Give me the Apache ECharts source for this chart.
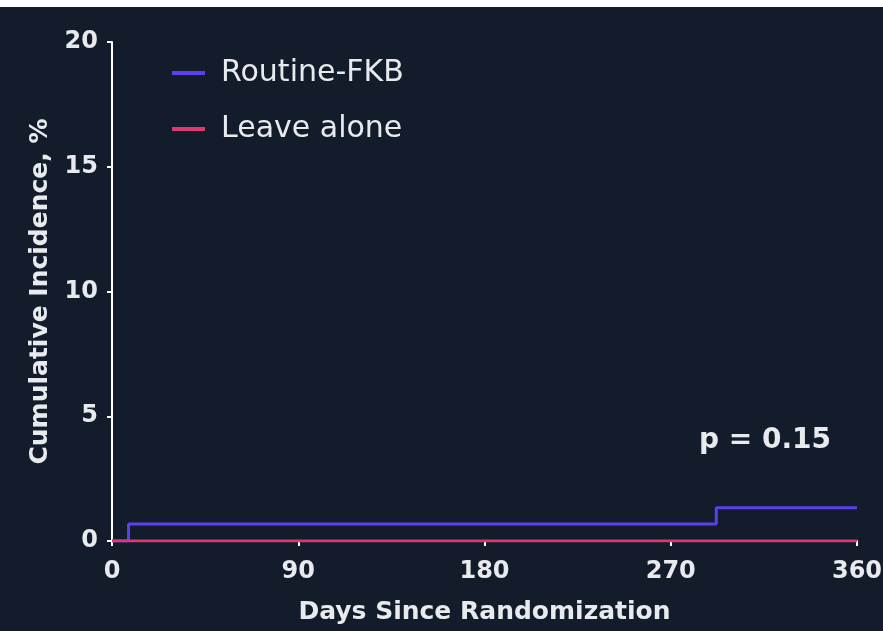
<!DOCTYPE html>
<html>
<head>
<meta charset="utf-8">
<script src="https://cdn.jsdelivr.net/npm/echarts@6/dist/echarts.min.js"></script>
<style>
  html, body { margin: 0; padding: 0; background: #121c2a; }
  #chart { width: 883px; height: 631px; }
</style>
</head>
<body>
<div id="chart"></div>
<script>
// step curves: day at which the level changes, and the cumulative incidence (%)
const routineDays = [0, 8, 292, 360];
const routineValues = [0, 0.68, 1.33, 1.33];
const leaveDays = [0, 360];
const leaveValues = [0, 0];
const xTicks = [0, 90, 180, 270, 360];
const yTicks = [0, 5, 10, 15, 20];
const pValue = 'p = 0.15';

const textColor = '#e8eaee';
const font = '"DejaVu Sans", "Liberation Sans", Arial, sans-serif';

const chart = echarts.init(document.getElementById('chart'));
chart.setOption({
  backgroundColor: '#121c2a',
  animation: false,
  grid: { left: 112, right: 26, top: 42, bottom: 90, containLabel: false, outerBoundsMode: 'none' },
  legend: {
    orient: 'vertical',
    left: 167,
    top: 53,
    itemWidth: 33,
    itemHeight: 4,
    itemGap: 26,
    icon: 'rect',
    textStyle: { color: textColor, fontSize: 30, fontFamily: font, padding: [0, 0, 0, 11] },
    data: ['Routine-FKB', 'Leave alone']
  },
  xAxis: {
    type: 'value',
    min: xTicks[0],
    max: xTicks[xTicks.length - 1],
    interval: 90,
    name: 'Days Since Randomization',
    nameLocation: 'middle',
    nameGap: 59,
    nameTextStyle: { color: textColor, fontSize: 25, fontWeight: 'bold', fontFamily: font },
    axisLine: { show: true, lineStyle: { color: '#ffffff', width: 2 } },
    axisTick: { show: true, length: 5, lineStyle: { color: '#ffffff', width: 2 } },
    axisLabel: { color: textColor, fontSize: 24, fontWeight: 'bold', fontFamily: font, margin: 19 },
    splitLine: { show: false }
  },
  yAxis: {
    type: 'value',
    min: yTicks[0],
    max: yTicks[yTicks.length - 1],
    interval: 5,
    name: 'Cumulative Incidence, %',
    nameLocation: 'middle',
    nameGap: 59,
    nameTextStyle: { color: textColor, fontSize: 25, fontWeight: 'bold', fontFamily: font },
    axisLine: { show: true, lineStyle: { color: '#ffffff', width: 2 } },
    axisTick: { show: true, length: 5, lineStyle: { color: '#ffffff', width: 2 } },
    axisLabel: { color: textColor, fontSize: 24, fontWeight: 'bold', fontFamily: font, margin: 14 },
    splitLine: { show: false }
  },
  series: [
    {
      name: 'Routine-FKB',
      type: 'line',
      step: 'end',
      showSymbol: false,
      color: '#5e3ff0',
      lineStyle: { color: '#5e3ff0', width: 3 },
      data: routineDays.map((d, i) => [d, routineValues[i]]),
      z: 3
    },
    {
      name: 'Leave alone',
      type: 'line',
      step: 'end',
      showSymbol: false,
      color: '#d93a72',
      lineStyle: { color: '#d93a72', width: 3 },
      data: leaveDays.map((d, i) => [d, leaveValues[i]]),
      z: 4
    }
  ],
  graphic: [
    { type: 'rect', left: 0, top: 0, shape: { width: 883, height: 7 }, style: { fill: '#ffffff' } },
    {
      type: 'text',
      left: 699,
      top: 427,
      style: { text: pValue, fill: textColor, font: 'bold 28px ' + font }
    }
  ]
});
</script>
</body>
</html>
